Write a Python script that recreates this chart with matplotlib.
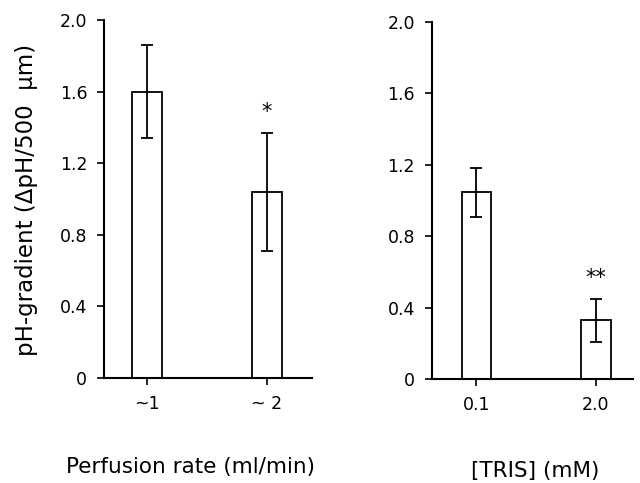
import matplotlib
matplotlib.use("Agg")
from matplotlib import pyplot as plt
import numpy as np

plt.rcParams['font.family'] = ['DejaVu Sans']

# left panel: perfusion rate
perf_labels = ["~1", "~ 2"]
perf_mean = [1.60, 1.04]
perf_lo = [1.34, 0.71]
perf_hi = [1.86, 1.37]
perf_sig = ["", "*"]

# right panel: TRIS concentration
tris_labels = ["0.1", "2.0"]
tris_mean = [1.05, 0.33]
tris_lo = [0.91, 0.21]
tris_hi = [1.18, 0.45]
tris_sig = ["", "**"]

yticks = [0, 0.4, 0.8, 1.2, 1.6, 2.0]
ytick_labels = ["0", "0.4", "0.8", "1.2", "1.6", "2.0"]

fig = plt.figure(figsize=(6.4, 4.83), dpi=100)
ax1 = fig.add_axes([0.1625, 0.2174, 0.325, 0.741])
ax2 = fig.add_axes([0.6745, 0.2147, 0.3145, 0.740])


def panel(ax, labels, mean, lo, hi, sig, xlim):
    x = np.arange(len(labels))
    mean = np.array(mean)
    err = [mean - np.array(lo), np.array(hi) - mean]
    ax.bar(x, mean, width=0.25, color="white", edgecolor="black", linewidth=1.3, zorder=2)
    ax.errorbar(x, mean, yerr=err, fmt="none", ecolor="black", elinewidth=1.3,
                capsize=4.5, capthick=1.3, zorder=3)
    for xi, h, s in zip(x, hi, sig):
        if s:
            ax.annotate(s, (xi, h), xytext=(0, 8), textcoords="offset points",
                        ha="center", va="bottom", fontsize=15)
    ax.set_xlim(*xlim)
    ax.set_ylim(0, 2.0)
    ax.set_xticks(x)
    ax.set_xticklabels(labels, fontsize=12.5)
    ax.set_yticks(yticks)
    ax.set_yticklabels(ytick_labels, fontsize=12.5)
    ax.tick_params(direction="out", length=5, width=1.2, pad=7)
    for side in ["top", "right"]:
        ax.spines[side].set_visible(False)
    for side in ["left", "bottom"]:
        ax.spines[side].set_linewidth(1.5)


panel(ax1, perf_labels, perf_mean, perf_lo, perf_hi, perf_sig, (-0.36, 1.375))
panel(ax2, tris_labels, tris_mean, tris_lo, tris_hi, tris_sig, (-0.375, 1.31))

fig.text(27 / 640, 1 - 200 / 483, "pH-gradient (ΔpH/500  μm)", rotation=90,
         ha="center", va="center", fontsize=16.5)
fig.text(191 / 640, 1 - 467 / 483, "Perfusion rate (ml/min)", ha="center",
         va="center", fontsize=15.5)
fig.text(535 / 640, 1 - 471 / 483, "[TRIS] (mM)", ha="center", va="center", fontsize=15.5)

plt.savefig("out.png", dpi=100)
